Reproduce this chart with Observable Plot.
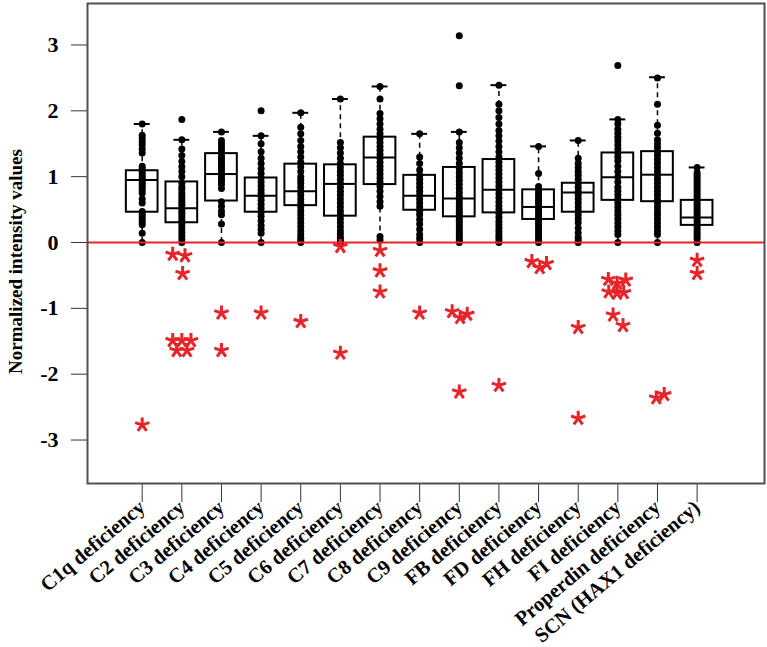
<!DOCTYPE html>
<html><head><meta charset="utf-8">
<script src="https://cdn.jsdelivr.net/npm/d3@7"></script>
<script src="https://cdn.jsdelivr.net/npm/@observablehq/plot@0.6"></script>
<style>body{margin:0;background:#fff}</style>
</head><body><div id="chart"></div>
<script>
const categories = ["C1q deficiency","C2 deficiency","C3 deficiency","C4 deficiency","C5 deficiency","C6 deficiency","C7 deficiency","C8 deficiency","C9 deficiency","FB deficiency","FD deficiency","FH deficiency","FI deficiency","Properdin deficiency","SCN (HAX1 deficiency)"];
const yTicks = [-3,-2,-1,0,1,2,3];
const yTitle = "Normalized intensity values";

// box statistics per category
const q1     = [0.46,0.30,0.63,0.46,0.56,0.40,0.88,0.49,0.39,0.45,0.35,0.46,0.64,0.62,0.26];
const median = [0.95,0.52,1.04,0.71,0.78,0.89,1.29,0.71,0.67,0.80,0.54,0.76,0.99,1.03,0.38];
const q3     = [1.09,0.92,1.35,0.98,1.19,1.18,1.60,1.02,1.14,1.26,0.80,0.90,1.36,1.38,0.64];
const upper  = [1.80,1.56,1.68,1.62,1.97,2.18,2.37,1.65,1.68,2.39,1.46,1.55,1.87,2.51,1.14];
const lower  = [0,0,0,0,0,0,0.04,0,0,0,0,0,0,0,0];

// individual non-negative values (black dots)
const dotsC1q = [0,0.14,0.27,0.31,0.35,0.39,0.43,0.47,0.6,0.66,0.75,0.79,0.83,0.87,0.9,0.94,0.97,1.0,1.04,1.08,1.12,1.16,1.36,1.42,1.48,1.53,1.58,1.63,1.8];
const dotsC2 = [0,0.05,0.1,0.15,0.2,0.25,0.3,0.34,0.38,0.42,0.46,0.5,0.54,0.58,0.62,0.66,0.7,0.75,0.8,0.84,0.9,1.0,1.08,1.15,1.23,1.32,1.42,1.56,1.87];
const dotsC3 = [0,0.28,0.42,0.48,0.55,0.62,0.82,0.88,0.93,0.97,1.01,1.05,1.1,1.14,1.18,1.22,1.26,1.3,1.35,1.4,1.45,1.5,1.55,1.68];
const dotsC4 = [0,0.14,0.2,0.26,0.33,0.4,0.46,0.52,0.58,0.64,0.7,0.75,0.8,0.86,0.92,0.98,1.05,1.12,1.2,1.28,1.38,1.5,1.62,2.0];
const dotsC5 = [0,0.03,0.07,0.12,0.18,0.24,0.3,0.36,0.42,0.48,0.54,0.6,0.66,0.72,0.78,0.84,0.9,0.95,1.0,1.08,1.15,1.22,1.3,1.38,1.46,1.55,1.65,1.75,1.97];
const dotsC6 = [0,0.04,0.08,0.13,0.18,0.24,0.3,0.36,0.42,0.48,0.54,0.6,0.66,0.72,0.78,0.84,0.9,0.96,1.02,1.08,1.14,1.2,1.28,1.36,1.44,1.52,2.18];
const dotsC7 = [0.04,0.09,0.55,0.62,0.7,0.78,0.85,0.92,0.98,1.04,1.1,1.16,1.22,1.28,1.34,1.4,1.46,1.52,1.58,1.65,1.72,1.8,1.88,1.96,2.18,2.37];
const dotsC8 = [0,0.06,0.12,0.2,0.28,0.35,0.42,0.48,0.54,0.6,0.66,0.72,0.78,0.84,0.9,0.96,1.02,1.1,1.2,1.3,1.65];
const dotsC9 = [0,0.03,0.06,0.1,0.14,0.18,0.22,0.26,0.3,0.34,0.38,0.42,0.46,0.5,0.55,0.6,0.65,0.7,0.76,0.82,0.88,0.94,1.0,1.06,1.12,1.2,1.28,1.36,1.44,1.52,1.68,2.38,3.14];
const dotsFB = [0,0.04,0.08,0.12,0.17,0.22,0.27,0.32,0.38,0.44,0.5,0.56,0.62,0.68,0.74,0.8,0.86,0.92,0.98,1.04,1.1,1.16,1.22,1.3,1.38,1.46,1.54,1.62,1.7,1.8,1.9,2.0,2.1,2.39];
const dotsFD = [0,0.04,0.08,0.12,0.16,0.2,0.24,0.28,0.32,0.36,0.4,0.44,0.48,0.52,0.56,0.6,0.64,0.68,0.72,0.76,0.8,0.85,1.05,1.46];
const dotsFH = [0,0.04,0.08,0.15,0.22,0.3,0.36,0.42,0.48,0.54,0.6,0.66,0.72,0.78,0.84,0.9,0.96,1.02,1.08,1.14,1.2,1.28,1.55];
const dotsFI = [0,0.12,0.18,0.24,0.3,0.36,0.42,0.48,0.54,0.6,0.66,0.72,0.78,0.84,0.92,1.0,1.08,1.16,1.24,1.3,1.36,1.42,1.48,1.54,1.6,1.66,1.72,1.8,1.87,2.69];
const dotsProperdin = [0,0.12,0.18,0.24,0.3,0.36,0.42,0.48,0.54,0.6,0.66,0.72,0.78,0.84,0.9,0.96,1.02,1.08,1.14,1.2,1.26,1.32,1.38,1.44,1.5,1.56,1.66,1.78,2.1,2.5];
const dotsSCN = [0,0.06,0.1,0.14,0.18,0.22,0.26,0.3,0.34,0.38,0.42,0.46,0.5,0.54,0.58,0.62,0.66,0.7,0.74,0.78,0.82,0.86,0.9,0.94,0.98,1.02,1.06,1.14];

// negative values (red asterisks): category index, value, horizontal jitter (category units)
const starCat    = [0, 1,1,1,1,1,1,1,1, 2,2, 3, 4, 5,5, 6,6,6, 7, 8,8,8,8, 9, 10,10,10, 11,11, 12,12,12,12,12,12,12,12, 13,13, 14,14];
const starValue  = [-2.77, -0.18,-0.20,-0.47,-1.49,-1.49,-1.49,-1.64,-1.64, -1.07,-1.64, -1.07, -1.20, -0.06,-1.68, -0.12,-0.43,-0.75, -1.07, -1.05,-1.14,-1.09,-2.27, -2.17, -0.29,-0.38,-0.32, -1.29,-2.67, -0.56,-0.57,-0.62,-0.75,-0.77,-0.76,-1.10,-1.26, -2.36,-2.31, -0.27,-0.47];
const starJitter = [0, -0.23,0.08,0.02,-0.23,0,0.23,-0.13,0.13, 0,0, 0, 0, 0,0, 0,0,0, 0, -0.18,0.02,0.2,0, 0, -0.17,0.03,0.2, 0,0, -0.24,0.2,-0.02,-0.23,-0.02,0.15,-0.12,0.13, -0.03,0.17, 0,0];

const dotLists = [dotsC1q,dotsC2,dotsC3,dotsC4,dotsC5,dotsC6,dotsC7,dotsC8,dotsC9,dotsFB,dotsFD,dotsFH,dotsFI,dotsProperdin,dotsSCN];
const points = dotLists.flatMap((vals, i) => vals.map(v => ({i, v})));
const stars = starCat.map((c, k) => ({i: c + starJitter[k], v: starValue[k]}));
const idx = categories.map((_, i) => i);

const boxHalf = 0.4, capHalf = 0.2;

const asterisk = {
  draw(context, size) {
    const r = Math.sqrt(size / Math.PI);
    for (let k = 0; k < 5; ++k) {
      const a = -Math.PI / 2 + k * 2 * Math.PI / 5;
      context.moveTo(0, 0);
      context.lineTo(r * Math.cos(a), r * Math.sin(a));
    }
  }
};

const chart = Plot.plot({
  width: 767, height: 647,
  marginLeft: 87, marginRight: 3, marginTop: 3, marginBottom: 164,
  style: {fontFamily: "'Liberation Serif','Times New Roman',serif", fontWeight: "bold", background: "white", color: "black"},
  x: {type: "linear", domain: [-1.38, 15.70]},
  y: {domain: [-3.66, 3.63]},
  marks: [
    Plot.axisY({ticks: yTicks, tickFormat: d => String(d), tickSize: 16, tickPadding: 13, fontSize: 22, stroke: "#333", label: null}),
    Plot.text([yTitle], {frameAnchor: "left", rotate: -90, dx: -72, dy: 18, fontSize: 19, textAnchor: "middle", fill: "black"}),
    Plot.axisX({ticks: idx, tickFormat: i => categories[i], tickRotate: -40, tickSize: 19, tickPadding: 2,
      fontSize: 20.5, stroke: "#333", label: null}),
    // whiskers
    Plot.ruleX(idx, {x: i => i, y1: i => q3[i], y2: i => upper[i], stroke: "black", strokeWidth: 1.5, strokeDasharray: "5,4"}),
    Plot.ruleX(idx, {x: i => i, y1: i => lower[i], y2: i => q1[i], stroke: "black", strokeWidth: 1.5, strokeDasharray: "5,4"}),
    // boxes
    Plot.rect(idx, {x1: i => i - boxHalf, x2: i => i + boxHalf, y1: i => q1[i], y2: i => q3[i], fill: "none", stroke: "black", strokeWidth: 2}),
    Plot.ruleY(idx, {x1: i => i - boxHalf, x2: i => i + boxHalf, y: i => median[i], stroke: "black", strokeWidth: 2}),
    // dots
    Plot.dot(points, {x: "i", y: "v", r: 3.5, fill: "black", stroke: "none"}),
    // caps
    Plot.ruleY(idx, {x1: i => i - capHalf, x2: i => i + capHalf, y: i => upper[i], stroke: "black", strokeWidth: 2}),
    // zero line
    Plot.ruleY([0], {stroke: "#e8242b", strokeWidth: 2}),
    // negative values
    Plot.dot(stars, {x: "i", y: "v", r: 7.5, symbol: asterisk, stroke: "#e8242b", strokeWidth: 3, fill: "none"}),
    Plot.frame({stroke: "#505050", strokeWidth: 2})
  ]
});
document.getElementById("chart").append(chart);
</script>
</body></html>
